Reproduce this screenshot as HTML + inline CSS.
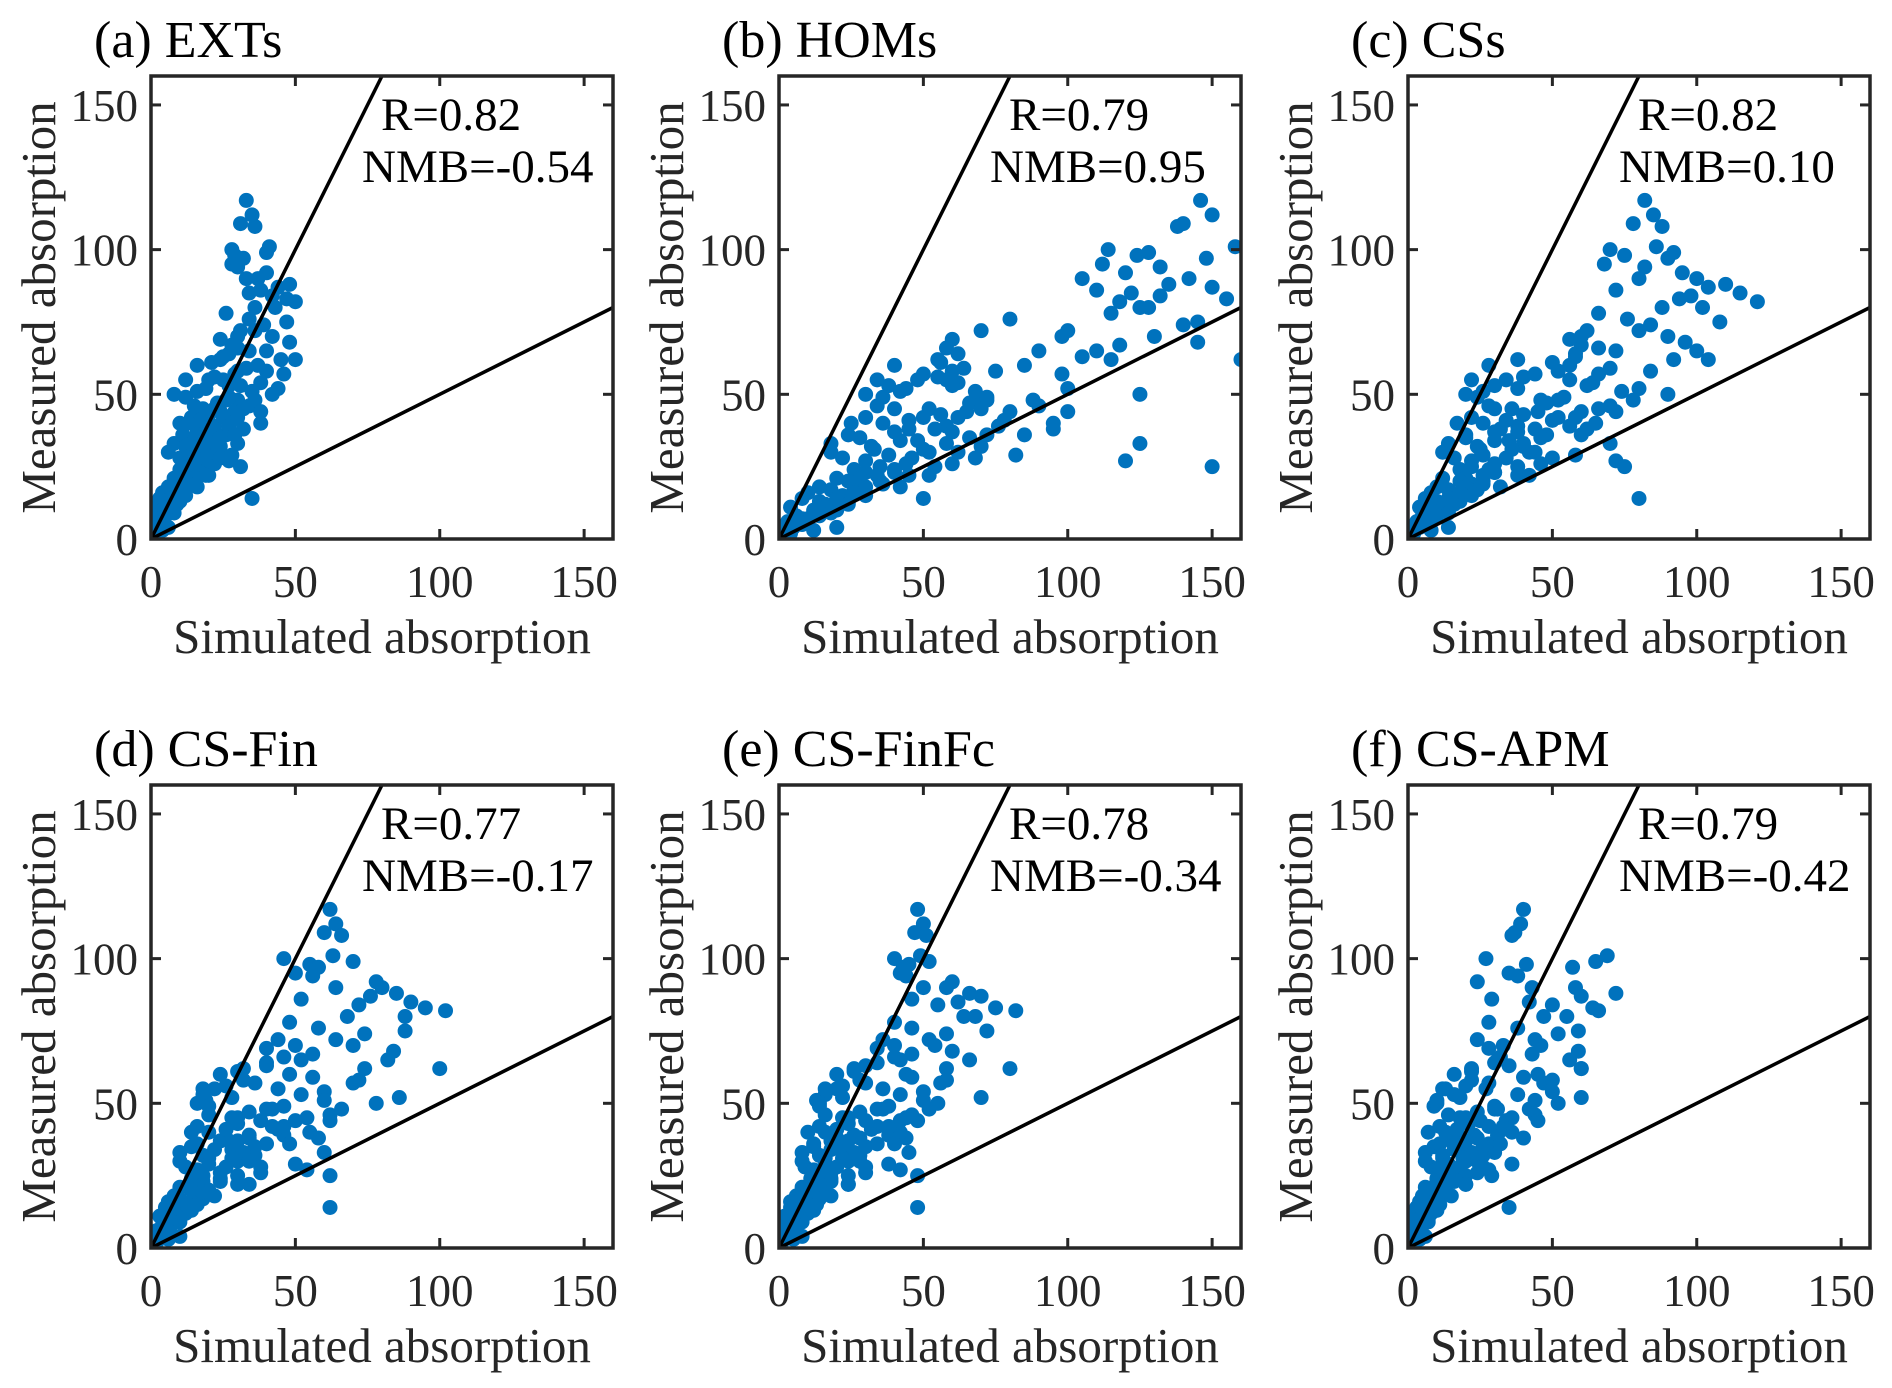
<!DOCTYPE html>
<html><head><meta charset="utf-8"><style>
html,body{margin:0;padding:0;background:#fff;}
svg{display:block;font-family:"Liberation Serif","Times New Roman",serif;}
</style></head><body>
<svg id="fig" width="1892" height="1388" viewBox="0 0 1892 1388"></svg>
<script>
const measured=[117,112,109,108,100,98,97,99,101,95,92,90,88,87,85,82,84,86,83,80,
78,75,74,72,70,68,67,65,63,62,60,58,57,56,55,54,53,52,51,50,49,48,46,45,44,
42,41,40,39,38,37,36,35,34,33,32,31,30,29,28,27,26,25,24,23,22,21,20,
19,18,17,16,15,14,14,13,12,11,10,9,8,7,6,5,4,3,2,25,45,38,60,48,55,65,70,30,50,40,33,62,
66,64,61,59,57,55,53,52,51,49,47,46,44,43,42,41,40,39,38,37,36,35,34,33,32,31,30,29,28,27,26,25,24,23,22,21,20,19,18,17,16,15,14,13,12,11,10,9,8,7,6,5,4,3,
72,76,69,58,48,45,42,36,28,22,18,90,94,80,62,44];
const simA=[33,35,31,36,28,29,32,40,41,28,40,33,48,44,34,50,42,38,47,36,
26,47,39,31,42,48,28,34,25,50,37,30,46,22,20,38,27,44,16,42,12,30,34,18,24,
14,28,10,22,32,16,26,12,20,8,24,14,18,28,10,27,22,31,16,12,20,8,15,
10,6,12,4,8,35,3,10,6,2,7,5,2,4,1,3,6,4,1,14,22,18,16,26,12,40,30,6,8,38,30,24,
30,27,21,33,29,25,31,19,35,27,23,15,29,20,25,17,13,27,22,19,11,24,15,21,12,18,23,14,19,11,16,20,10,17,13,15,9,13,11,7,10,12,7,5,9,6,4,8,5,3,4,2,2,1,
36,34,24,40,36,32,30,29,24,19,16,37,30,43,45,38];
const simB=[146,150,140,138,114,124,148,128,158,112,120,142,135,150,122,118,132,110,155,128,
115,145,140,100,130,145,118,90,105,160,85,60,98,55,48,62,38,100,42,125,36,70,90,52,65,
30,78,25,58,95,40,72,28,48,18,70,33,52,82,22,120,60,150,40,30,45,20,35,
28,14,26,10,22,50,8,24,16,4,20,12,6,10,3,8,20,12,4,35,40,45,40,72,34,110,98,18,30,95,125,55,
58,62,56,64,50,58,60,44,68,72,66,34,80,56,62,45,36,76,54,60,24,66,42,58,32,50,62,38,46,30,44,54,26,40,34,28,24,36,30,18,26,30,20,14,24,16,12,18,14,8,10,6,5,2,
70,80,60,75,88,70,50,85,68,52,42,105,132,125,115,100];
const simC=[82,85,78,88,70,75,90,92,86,68,95,100,110,104,115,121,98,72,94,88,
66,108,84,62,90,96,60,72,58,104,56,52,66,40,34,64,30,80,26,90,24,46,70,36,45,
22,50,17,38,62,30,48,20,35,14,40,25,44,58,16,72,46,75,28,30,38,12,26,
22,10,24,8,16,80,6,18,12,4,14,10,5,8,3,6,14,8,2,22,30,32,28,52,22,100,60,12,20,65,70,38,
66,58,50,70,44,56,62,38,74,54,48,28,60,40,52,34,26,56,44,38,20,46,30,40,24,36,42,26,34,22,30,38,18,30,26,20,18,26,20,14,18,22,14,10,16,12,8,14,10,6,8,4,4,2,
80,76,56,84,78,66,58,60,50,42,32,80,82,102,92,72];
const simD=[62,64,60,66,46,55,58,70,63,50,78,80,85,76,90,102,72,52,95,68,
48,88,74,44,70,84,56,52,40,100,48,32,70,26,22,60,18,86,19,78,20,40,62,30,38,
16,44,14,34,58,24,40,14,28,10,36,20,30,50,12,54,38,62,24,18,34,10,20,
16,8,18,6,12,62,5,14,9,3,10,7,4,6,2,4,10,6,2,18,28,26,24,42,18,82,50,10,16,55,60,32,
46,40,30,56,36,44,52,28,60,46,34,20,50,30,42,26,20,46,34,30,16,36,22,32,18,28,34,20,26,16,24,30,14,24,18,16,14,20,16,10,14,16,10,8,12,9,6,10,7,4,6,3,3,1,
64,58,40,72,66,54,46,48,38,30,22,64,56,88,74,62];
const simE=[48,50,47,51,40,45,43,52,49,42,60,58,66,70,62,82,55,46,75,64,
40,72,58,36,54,60,46,42,30,80,44,28,56,22,20,50,16,70,13,55,14,36,46,24,30,
14,32,10,26,44,18,34,12,22,8,28,16,24,38,9,42,30,48,18,14,24,8,16,
12,6,14,4,10,48,4,12,7,2,8,6,3,5,2,4,8,5,1,14,22,20,20,34,16,66,40,8,14,42,45,26,
40,34,26,46,30,36,42,22,50,38,28,16,42,24,34,20,16,38,28,24,12,30,18,26,14,22,28,16,20,12,18,24,11,18,14,12,11,16,12,8,11,13,8,6,10,7,5,8,6,4,5,2,2,1,
52,46,34,58,52,44,38,40,30,24,18,50,44,68,58,48];
const simF=[40,39,37,36,27,41,57,65,69,35,24,58,72,60,42,66,50,29,64,47,
28,59,52,24,46,59,43,31,35,60,45,22,47,20,13,50,16,60,10,52,9,31,44,18,25,
11,33,7,23,40,15,28,9,19,6,26,12,20,36,8,28,24,29,14,10,20,6,13,
9,5,11,4,7,35,3,10,5,2,7,5,2,4,1,3,6,4,1,12,20,18,16,30,12,56,33,6,10,36,30,22,
32,30,22,40,28,27,38,18,44,30,24,14,34,21,28,17,13,31,24,20,11,26,16,22,12,19,24,14,18,11,16,20,10,16,12,11,9,13,10,7,9,11,7,5,8,6,4,7,5,3,4,2,2,1,
44,38,28,50,42,36,33,32,26,20,15,43,38,55,60,45];
const titles=["(a) EXTs","(b) HOMs","(c) CSs","(d) CS-Fin","(e) CS-FinFc","(f) CS-APM"];
const rVals=["R=0.82","R=0.79","R=0.82","R=0.77","R=0.78","R=0.79"];
const nmbVals=["NMB=-0.54","NMB=0.95","NMB=0.10","NMB=-0.17","NMB=-0.34","NMB=-0.42"];
const tickVals=[0,50,100,150];
const sims=[simA,simB,simC,simD,simE,simF];

const NS="http://www.w3.org/2000/svg";
const svg=document.getElementById('fig');
function mk(tag,attrs,parent){const e=document.createElementNS(NS,tag);for(const k in attrs)e.setAttribute(k,attrs[k]);parent.appendChild(e);return e;}
const lefts=[151,779,1408];
const bottoms=[539,1248];
const W=462,H=463,MAX=160;
for(let p=0;p<6;p++){
  const L=lefts[p%3],B=bottoms[Math.floor(p/3)],T=B-H,R=L+W;
  const sx=v=>L+v/MAX*W, sy=v=>B-v/MAX*H;
  const g=mk('g',{},svg);
  
  
  const cp=mk('clipPath',{id:'cp'+p},g);
  mk('rect',{x:L,y:T,width:W,height:H},cp);
  const pts=mk('g',{'clip-path':'url(#cp'+p+')'},g);
  
  
  const xs=sims[p];
  for(let i=0;i<measured.length;i++){
    const c=mk('circle',{cx:sx(xs[i]),cy:sy(measured[i]),r:7.5,fill:'#0072BD'},pts);
    
    
  }
  const l1=mk('line',{x1:sx(0),y1:sy(0),x2:sx(80),y2:sy(160),stroke:'#000','stroke-width':3.5},pts);
  
  
  const l2=mk('line',{x1:sx(0),y1:sy(0),x2:sx(160),y2:sy(80),stroke:'#000','stroke-width':3.5},pts);
  
  
  const box=mk('rect',{x:L,y:T,width:W,height:H,fill:'none',stroke:'#262626','stroke-width':3.5},g);
  
  
  tickVals.forEach(v=>{
    const x=sx(v),y=sy(v);
    mk('line',{x1:x,y1:B,x2:x,y2:B-10,stroke:'#262626','stroke-width':3},g);
    mk('line',{x1:x,y1:T,x2:x,y2:T+10,stroke:'#262626','stroke-width':3},g);
    mk('line',{x1:L,y1:y,x2:L+10,y2:y,stroke:'#262626','stroke-width':3},g);
    mk('line',{x1:R,y1:y,x2:R-10,y2:y,stroke:'#262626','stroke-width':3},g);
    const tx=mk('text',{x:x,y:B+58,'text-anchor':'middle','font-size':45,fill:'#262626'},g);
    tx.textContent=v;
    
    
    const ty=mk('text',{x:L-13,y:y+16,'text-anchor':'end','font-size':45,fill:'#262626'},g);
    ty.textContent=v;
    
    
  });
  const xl=mk('text',{x:L+W/2,y:B+114,'text-anchor':'middle','font-size':49,fill:'#262626'},g);
  xl.textContent='Simulated absorption';
  
  
  const yl=mk('text',{x:0,y:0,'text-anchor':'middle','font-size':49,fill:'#262626',transform:'translate('+(L-96)+','+(B-H/2)+') rotate(-90)'},g);
  yl.textContent='Measured absorption';
  
  
  const tt=mk('text',{x:L-57,y:T-19,'font-size':52,fill:'#000'},g);
  tt.textContent=titles[p];
  
  
  const rt=mk('text',{x:L+230,y:T+54,'font-size':47,fill:'#000'},g);
  rt.textContent=rVals[p];
  
  
  const nt=mk('text',{x:L+211,y:T+106,'font-size':47,fill:'#000'},g);
  nt.textContent=nmbVals[p];
  
  
}
</script>
</body></html>
